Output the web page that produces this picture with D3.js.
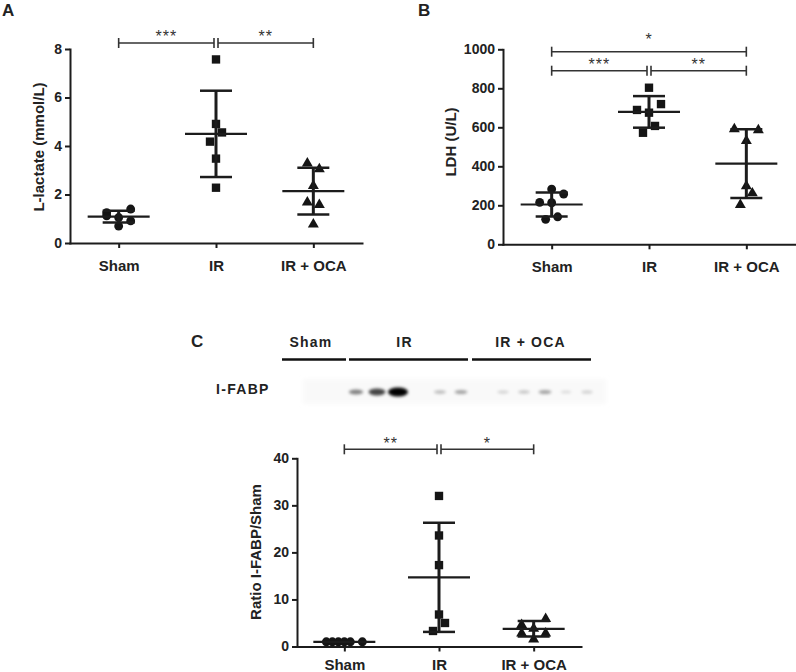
<!DOCTYPE html>
<html>
<head>
<meta charset="utf-8">
<script src="https://cdn.jsdelivr.net/npm/d3@7"></script>
<style>
  html, body { margin: 0; padding: 0; background: #fff; }
  svg { display: block; font-family: "Liberation Sans", Arial, sans-serif; }
</style>
</head>
<body>
<script>
// ---------------- DATA ----------------
const categories = ["Sham", "IR", "IR + OCA"];

// Panel A: L-lactate (mmol/L)
const lactateTicks = [0, 2, 4, 6, 8];
const lactateSham = [1.25, 1.12, 0.70, 1.05, 1.40, 0.91];
const lactateIR   = [7.57, 4.91, 4.56, 4.18, 3.48, 2.28];
const lactateOCA  = [3.29, 3.05, 2.36, 1.68, 1.57, 0.77];
const lactateMean = [1.09, 4.50, 2.14];
const lactateSD   = [0.24, 1.78, 0.96];
const lactateSlotSham = [-2, -2, 0, 0, 2, 2];
const lactateSlotIR   = [0, 0, 1, -1, 0, 0];
const lactateSlotOCA  = [-1, 1, 0, -1, 1, 0];
const lactateSig = [["Sham", "IR", "***", 0], ["IR", "IR + OCA", "**", 0]];

// Panel B: LDH (U/L)
const ldhTicks = [0, 200, 400, 600, 800, 1000];
const ldhSham = [283, 258, 215, 213, 128, 141];
const ldhIR   = [803, 719, 689, 675, 607, 572];
const ldhOCA  = [591, 586, 530, 299, 262, 202];
const ldhMean = [204, 679, 414];
const ldhSD   = [62, 81, 176];
const ldhSlotSham = [0, 2, -2, 0, -1, 1];
const ldhSlotIR   = [0, 2, -2, 0, 1, -1];
const ldhSlotOCA  = [-2, 2, 0, 0, 1, -1];
const ldhSig = [["Sham", "IR", "***", 0], ["IR", "IR + OCA", "**", 0], ["Sham", "IR + OCA", "*", 1]];

// Panel C: Ratio I-FABP/Sham
const fabpTicks = [0, 10, 20, 30, 40];
const fabpSham = [1.0, 1.0, 1.0, 1.0, 1.0, 1.0];
const fabpIR   = [32.0, 23.6, 17.3, 6.8, 5.0, 3.3];
const fabpOCA  = [5.9, 4.6, 3.8, 2.8, 2.8, 1.5];
const fabpMean = [1.0, 14.7, 3.75];
const fabpSD   = [0.0, 11.6, 1.65];
const fabpSlotSham = [-3, -2, -1, 0, 1, 3];
const fabpSlotIR   = [0, 0, 0, 0, 1, -1];
const fabpSlotOCA  = [2, -2, 0, -2, 2, 0];
const fabpSig = [["Sham", "IR", "**", 0], ["IR", "IR + OCA", "*", 0]];

// Western blot: band intensity per lane (0 = no band)
const blotGroups = ["Sham", "IR", "IR + OCA"];
const blotBandIntensity = [0.42, 0.68, 1.0, 0, 0.18, 0.28, 0, 0.09, 0.14, 0.28, 0.05, 0.1];

// ---------------- DRAW ----------------
const svg = d3.select("body").append("svg").attr("width", 796).attr("height", 672);
const defs = svg.append("defs");
defs.append("filter").attr("id", "blur").attr("x", "-50%").attr("y", "-100%").attr("width", "200%").attr("height", "300%")
  .append("feGaussianBlur").attr("stdDeviation", 1.5);
defs.append("filter").attr("id", "blur2").attr("x", "-10%").attr("y", "-30%").attr("width", "120%").attr("height", "160%")
  .append("feGaussianBlur").attr("stdDeviation", 2);

const INK = "#1c1c1c";
const symbols = [d3.symbolCircle, d3.symbolSquare, d3.symbolTriangle];
const symSizes = [62, 70, 52];

function panel(cfg) {
  const g = svg.append("g");
  const x = d3.scalePoint().domain(categories).range(cfg.xRange).padding(0.5);
  const y = d3.scaleLinear().domain([0, cfg.ticks[cfg.ticks.length - 1]]).range(cfg.yRange);

  const gy = g.append("g").attr("transform", `translate(${cfg.xRange[0]},0)`)
    .call(d3.axisLeft(y).tickValues(cfg.ticks).tickFormat(d3.format("d")).tickSize(5).tickSizeOuter(0).tickPadding(3));
  const gx = g.append("g").attr("transform", `translate(0,${cfg.yRange[0]})`)
    .call(d3.axisBottom(x).tickSize(5).tickSizeOuter(0).tickPadding(cfg.xPad));
  [gy, gx].forEach(a => {
    a.select(".domain").attr("stroke", INK).attr("stroke-width", 2).attr("stroke-linecap", "square");
    a.selectAll(".tick line").attr("stroke", INK).attr("stroke-width", 2);
    a.selectAll(".tick text").attr("fill", "#222").attr("font-weight", "bold");
  });
  gy.selectAll(".tick text").attr("font-size", 14);
  gx.selectAll(".tick text").attr("font-size", 15);

  g.append("text")
    .attr("transform", `translate(${cfg.titleX},${cfg.titleY}) rotate(-90)`)
    .attr("text-anchor", "middle").attr("font-size", 15).attr("font-weight", "bold").attr("fill", "#222")
    .text(cfg.title);

  // points
  cfg.values.forEach((vals, gi) => {
    vals.forEach((v, j) => {
      g.append("path")
        .attr("d", d3.symbol(symbols[gi], symSizes[gi])())
        .attr("transform", `translate(${x(categories[gi]) + cfg.slots[gi][j] * cfg.jitter},${y(v)})`)
        .attr("fill", "#151515");
    });
  });

  // mean ± SD
  categories.forEach((c, gi) => {
    const cx = x(c), m = cfg.means[gi], s = cfg.sds[gi];
    const gg = g.append("g").attr("stroke", INK).attr("fill", "none");
    gg.append("line").attr("x1", cx - 31).attr("x2", cx + 31).attr("y1", y(m)).attr("y2", y(m)).attr("stroke-width", 2.2);
    if (s > 0) {
      gg.append("line").attr("x1", cx).attr("x2", cx).attr("y1", y(m - s)).attr("y2", y(m + s)).attr("stroke-width", 3);
      [m - s, m + s].forEach(v => gg.append("line").attr("x1", cx - 16).attr("x2", cx + 16)
        .attr("y1", y(v)).attr("y2", y(v)).attr("stroke-width", 2.5));
    }
  });

  // significance brackets
  cfg.sig.forEach(([a, b, lab, row]) => {
    const yy = cfg.rowY[row];
    const shared = e => cfg.sig.filter(s => s[3] === row && (s[0] === e || s[1] === e)).length > 1;
    const x1 = x(a) + (shared(a) ? 2 : 0);
    const x2 = x(b) - (shared(b) ? 2 : 0);
    const bg = g.append("g").attr("stroke", "#333").attr("stroke-width", 1.6);
    bg.append("line").attr("x1", x1).attr("x2", x2).attr("y1", yy).attr("y2", yy);
    [x1, x2].forEach(xx => bg.append("line").attr("x1", xx).attr("x2", xx).attr("y1", yy - 5).attr("y2", yy + 5));
    g.append("text").attr("x", (x1 + x2) / 2).attr("y", yy - cfg.starOff[row])
      .attr("text-anchor", "middle").attr("font-size", 16).attr("letter-spacing", 1).attr("fill", "#333")
      .text(lab);
  });
}

panel({
  xRange: [70, 362], yRange: [243, 49], ticks: lactateTicks, xPad: 12,
  title: "L-lactate (mmol/L)", titleX: 44, titleY: 147,
  values: [lactateSham, lactateIR, lactateOCA],
  slots: [lactateSlotSham, lactateSlotIR, lactateSlotOCA], jitter: 6,
  means: lactateMean, sds: lactateSD, sig: lactateSig, rowY: [43], starOff: [1]
});

panel({
  xRange: [503, 795], yRange: [244.3, 49.3], ticks: ldhTicks, xPad: 12,
  title: "LDH (U/L)", titleX: 456, titleY: 142,
  values: [ldhSham, ldhIR, ldhOCA],
  slots: [ldhSlotSham, ldhSlotIR, ldhSlotOCA], jitter: 6,
  means: ldhMean, sds: ldhSD, sig: ldhSig, rowY: [70.7, 51.7], starOff: [1, 7]
});

panel({
  xRange: [297, 581], yRange: [646.5, 458.3], ticks: fabpTicks, xPad: 8,
  title: "Ratio I-FABP/Sham", titleX: 261, titleY: 552,
  values: [fabpSham, fabpIR, fabpOCA],
  slots: [fabpSlotSham, fabpSlotIR, fabpSlotOCA], jitter: 6,
  means: fabpMean, sds: fabpSD, sig: fabpSig, rowY: [449.3], starOff: [0.5]
});

// panel letters
[["A", 2, 16], ["B", 418, 16], ["C", 191, 347]].forEach(([t, px, py]) =>
  svg.append("text").attr("x", px).attr("y", py).attr("font-size", 17).attr("font-weight", "bold").attr("fill", "#222").text(t));

// Western blot header
const header = d3.scaleOrdinal().domain(blotGroups).range([[282, 346], [349, 468], [472, 591]]);
blotGroups.forEach(gname => {
  const [a, b] = header(gname);
  svg.append("line").attr("x1", a).attr("x2", b).attr("y1", 359.5).attr("y2", 359.5)
    .attr("stroke", "#111").attr("stroke-width", 2.5);
  svg.append("text").attr("x", (a + b) / 2 + (gname === "IR + OCA" ? -1 : (gname === "Sham" ? -3 : -4))).attr("y", 347)
    .attr("text-anchor", "middle").attr("font-size", 14).attr("font-weight", "bold").attr("letter-spacing", 1.2)
    .attr("fill", "#222").text(gname);
});
svg.append("text").attr("x", 216).attr("y", 394).attr("font-size", 14).attr("font-weight", "bold")
  .attr("letter-spacing", 1.3).attr("fill", "#222").text("I-FABP");

// blot membrane
svg.append("rect").attr("x", 303).attr("y", 379).attr("width", 303).attr("height", 25)
  .attr("fill", "#f9f9f9").attr("filter", "url(#blur2)");
const lane = d3.scaleLinear().domain([0, blotBandIntensity.length - 1]).range([356, 587]);
const bands = svg.append("g").attr("filter", "url(#blur)");
blotBandIntensity.forEach((v, i) => {
  if (v <= 0) return;
  bands.append("ellipse")
    .attr("cx", lane(i)).attr("cy", 392)
    .attr("rx", 5 + 5 * v).attr("ry", 1.2 + 3.3 * v)
    .attr("fill", "#000").attr("fill-opacity", Math.min(1, 0.08 + 0.95 * v));
});
</script>
</body>
</html>
